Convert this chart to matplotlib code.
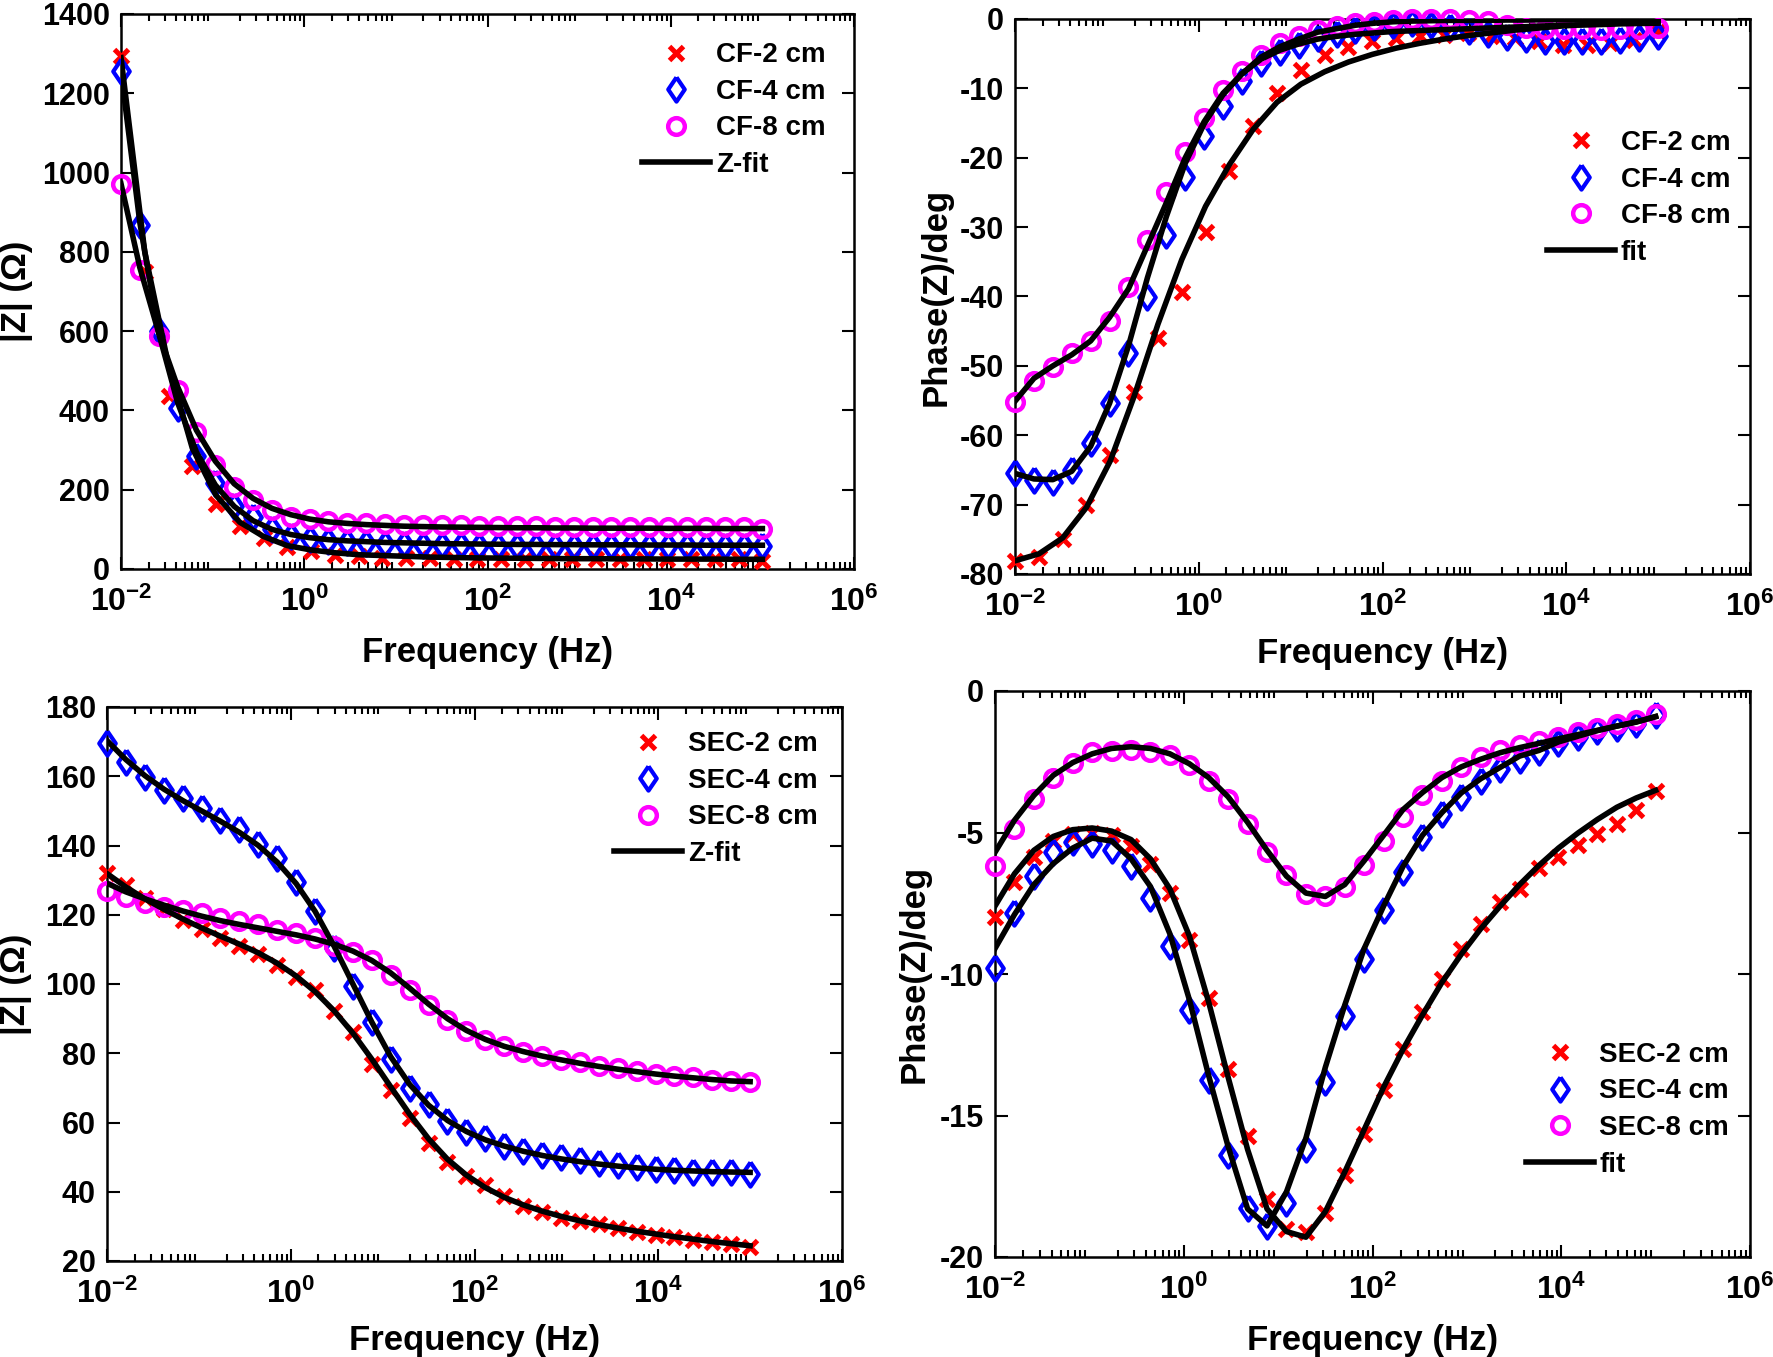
import numpy as np
import matplotlib
matplotlib.use("Agg")
import matplotlib.pyplot as plt
from matplotlib.ticker import LogLocator, NullFormatter

plt.rcParams['font.family'] = ['Liberation Sans', 'DejaVu Sans']
plt.rcParams['font.weight'] = 'bold'
plt.rcParams['mathtext.fontset'] = 'custom'
plt.rcParams['mathtext.rm'] = 'Liberation Sans:bold'
plt.rcParams['mathtext.bf'] = 'Liberation Sans:bold'

# measurement frequencies (Hz)
f35 = [0.01, 0.01607, 0.02581, 0.04145, 0.06659, 0.1070, 0.1719, 0.2762, 0.4437, 0.7127,
       1.145, 1.839, 2.955, 4.748, 7.626, 12.25, 19.69, 31.62, 50.80, 81.62,
       131.1, 210.6, 338.3, 543.6, 873.4, 1403, 2254, 3622, 5818, 9346,
       15015, 24120, 38740, 62230, 100000]
f28 = [0.01, 0.01817, 0.03300, 0.05995, 0.1089, 0.1978, 0.3594, 0.6529, 1.186, 2.154,
       3.914, 7.110, 12.92, 23.47, 42.62, 77.43, 140.7, 255.5, 464.2, 843.3,
       1532, 2783, 5055, 9184, 16680, 30310, 55060, 100000]

# ---- CF, |Z| ----
cf2_z = [1293, 750, 437, 259, 164, 109, 77, 55, 45, 36, 32, 29, 27, 27, 26, 26, 26, 25,
         25, 25, 25, 25, 24, 24, 24, 24, 24, 21]
cf2_zfit = [1290, 800, 514, 305, 186, 118, 82, 59, 48, 41, 36, 34, 32, 30, 29, 28, 27.5, 27,
            26.5, 26, 26, 25.5, 25.5, 25, 25, 25, 24.5, 24.5]
cf4_z = [1255, 868, 600, 405, 286, 218, 159, 132, 100, 82, 75, 71, 68, 66, 64, 62, 61, 60,
         60, 59, 59, 58, 58, 58, 57, 57, 57, 57, 57, 57, 57, 57, 57, 57, 57]
cf4_zfit = [1255, 873, 595, 420, 295, 212, 158, 122, 100, 87, 79, 74, 71, 69, 67, 66, 65, 64,
            63.5, 63, 62.5, 62, 62, 61.5, 61.5, 61, 61, 61, 60.5, 60.5, 60.5, 60, 60, 60, 60]
cf8_z = [972, 755, 588, 452, 345, 262, 207, 173, 150, 132, 127, 120, 117, 115, 113, 112, 111, 110,
         110, 109, 109, 108, 108, 107, 107, 107, 107, 106, 106, 106, 106, 105, 105, 105, 102]
cf8_zfit = [972, 760, 595, 460, 350, 272, 215, 178, 153, 137, 126, 119, 115, 112, 110, 108, 107, 106,
            105.5, 105, 104.5, 104, 104, 103.5, 103.5, 103, 103, 103, 103, 102.5, 102.5, 102.5, 102, 102, 102]

# ---- CF, phase ----
cf2_ph = [-78.1, -77.5, -74.9, -70.0, -62.8, -53.8, -46.0, -39.3, -30.7, -21.9, -15.4, -10.6, -7.3, -5.2,
          -4.0, -3.1, -2.7, -2.4, -2.3, -2.0, -2.4, -2.8, -3.2, -3.7, -3.7, -3.5, -3.0, -1.7]
cf2_phfit = [-78.1, -77.1, -74.8, -70.4, -63.7, -54.4, -44.0, -34.7, -27.0, -21.0, -15.9, -12.0, -9.4, -7.6,
             -6.2, -5.1, -4.2, -3.5, -2.9, -2.4, -2.0, -1.6, -1.3, -1.0, -0.8, -0.6, -0.5, -0.4]
cf4_ph = [-65.5, -66.5, -66.8, -65.0, -61.1, -55.4, -48.2, -40.1, -31.1, -22.8, -16.9, -12.5, -8.9, -6.3,
          -4.8, -3.7, -2.8, -2.2, -1.6, -1.1, -0.8, -0.6, -0.8, -1.2, -1.7, -2.1, -2.6, -2.9,
          -3.1, -3.2, -3.2, -3.1, -3.0, -2.8, -2.4]
cf4_phfit = [-65.5, -66.3, -66.4, -65.2, -61.6, -55.4, -47.1, -37.3, -28.5, -20.8, -15.1, -10.9, -7.9, -5.8,
             -4.5, -3.6, -2.9, -2.5, -2.2, -2.0, -1.8, -1.7, -1.6, -1.5, -1.4, -1.3, -1.2, -1.1,
             -1.0, -0.9, -0.85, -0.8, -0.7, -0.65, -0.6]
cf8_ph = [-55.2, -52.2, -50.1, -48.1, -46.4, -43.5, -38.7, -31.9, -24.9, -19.2, -14.3, -10.2, -7.5, -5.2,
          -3.5, -2.5, -1.6, -1.0, -0.6, -0.4, -0.1, 0.0, 0.0, 0.0, -0.1, -0.3, -0.8, -1.3,
          -1.5, -1.5, -1.5, -1.6, -1.5, -1.5, -1.3]
cf8_phfit = [-55.1, -51.8, -50.0, -48.4, -46.4, -43.0, -38.9, -32.7, -26.5, -20.0, -14.8, -10.7, -7.9, -5.5,
             -4.0, -2.9, -1.9, -1.4, -0.9, -0.6, -0.4, -0.3, -0.25, -0.2, -0.2, -0.2, -0.15, -0.15,
             -0.1, -0.1, -0.1, -0.1, -0.1, -0.1, -0.1]

# ---- SEC, |Z| ----
sec2_z = [132.0, 128.5, 124.8, 121.6, 118.5, 115.8, 113.3, 111.0, 108.8, 105.4, 101.9, 98.2, 92.3, 86.1,
          76.8, 69.3, 61.2, 54.1, 48.7, 44.6, 41.9, 38.7, 35.9, 34.1, 32.5, 31.6, 30.6, 29.4,
          28.5, 27.5, 26.9, 26.0, 25.4, 25.0, 24.1]
sec2_zfit = [131.9, 128.0, 124.6, 121.6, 118.8, 116.2, 113.8, 111.5, 109.0, 106.0, 102.3, 97.8, 92.3, 85.8,
             78.3, 70.3, 62.4, 55.3, 49.4, 44.8, 41.2, 38.4, 36.2, 34.4, 32.9, 31.6, 30.5, 29.5,
             28.6, 27.8, 27.0, 26.3, 25.6, 25.0, 24.4]
sec4_z = [169.7, 164.0, 159.7, 155.9, 153.8, 150.9, 147.5, 144.7, 140.3, 136.4, 129.5, 121.0, 110.4, 99.4,
          88.9, 78.3, 69.9, 65.2, 60.3, 57.4, 55.6, 53.3, 51.8, 50.6, 50.0, 49.1, 48.3, 47.8,
          47.2, 46.6, 46.2, 45.8, 45.6, 45.6, 45.2]
sec4_zfit = [170.3, 164.8, 160.2, 156.3, 153.0, 150.0, 147.0, 143.8, 140.0, 135.2, 129.0, 121.0, 111.0, 100.0,
             89.0, 79.0, 71.0, 65.0, 60.6, 57.4, 55.0, 53.2, 51.7, 50.5, 49.5, 48.7, 48.0, 47.4,
             46.9, 46.5, 46.2, 46.0, 45.8, 45.7, 45.6]
sec8_z = [127.0, 125.1, 123.5, 122.3, 121.3, 120.4, 119.1, 118.3, 117.3, 115.7, 114.8, 113.2, 111.0, 109.2,
          106.9, 102.6, 98.2, 94.0, 89.5, 86.5, 83.9, 82.0, 80.5, 79.3, 78.0, 77.4, 76.4, 75.8,
          74.9, 74.0, 73.4, 73.0, 72.4, 72.0, 71.8]
sec8_zfit = [129.1, 126.6, 124.6, 122.8, 121.1, 119.6, 118.3, 117.2, 116.2, 115.2, 114.2, 113.0, 111.5, 109.5,
             106.8, 103.2, 98.8, 94.2, 90.0, 86.6, 84.0, 82.0, 80.5, 79.2, 78.1, 77.1, 76.2, 75.4,
             74.7, 74.0, 73.4, 72.9, 72.4, 72.0, 71.8]

# ---- SEC, phase ----
sec2_ph = [-7.97, -6.76, -5.85, -5.30, -5.05, -5.02, -5.10, -5.48, -6.11, -7.14, -8.80, -10.85, -13.34, -15.73,
           -17.96, -19.02, -19.12, -18.46, -17.12, -15.64, -14.10, -12.66, -11.35, -10.17, -9.11, -8.23, -7.47, -6.99,
           -6.26, -5.85, -5.45, -5.05, -4.69, -4.19, -3.54]
sec2_phfit = [-7.6, -6.46, -5.63, -5.14, -4.90, -4.84, -4.95, -5.25, -5.93, -6.99, -8.65, -11.0, -13.65, -16.2,
              -18.3, -19.1, -19.3, -18.4, -17.0, -15.5, -14.0, -12.66, -11.45, -10.3, -9.3, -8.4, -7.6, -6.84,
              -6.16, -5.55, -5.02, -4.54, -4.11, -3.78, -3.51]
sec4_ph = [-9.79, -7.85, -6.54, -5.70, -5.35, -5.40, -5.63, -6.18, -7.30, -9.00, -11.27, -13.76, -16.38, -18.26,
           -18.90, -18.10, -16.20, -13.82, -11.50, -9.47, -7.73, -6.38, -5.17, -4.34, -3.74, -3.18, -2.75, -2.45,
           -2.15, -1.85, -1.62, -1.42, -1.32, -1.16, -0.86]
sec4_phfit = [-9.1, -7.9, -6.84, -6.1, -5.55, -5.2, -5.3, -5.93, -6.91, -8.58, -10.9, -13.6, -16.1, -18.3,
              -18.9, -17.7, -15.8, -13.3, -11.1, -9.1, -7.6, -6.2, -5.1, -4.3, -3.6, -3.1, -2.7, -2.3,
              -2.1, -1.8, -1.6, -1.4, -1.24, -1.1, -0.9]
sec8_ph = [-6.20, -4.87, -3.81, -3.09, -2.53, -2.15, -2.12, -2.10, -2.15, -2.27, -2.60, -3.18, -3.81, -4.69,
           -5.70, -6.50, -7.17, -7.26, -6.91, -6.16, -5.30, -4.46, -3.69, -3.18, -2.68, -2.33, -2.07, -1.92,
           -1.77, -1.62, -1.44, -1.32, -1.16, -1.01, -0.82]
sec8_phfit = [-5.70, -4.57, -3.69, -2.98, -2.53, -2.22, -2.03, -1.97, -2.03, -2.22, -2.57, -3.06, -3.74, -4.64,
              -5.63, -6.54, -7.14, -7.26, -6.84, -6.00, -5.10, -4.19, -3.59, -3.06, -2.68, -2.41, -2.18, -2.00,
              -1.85, -1.69, -1.54, -1.39, -1.24, -1.09, -0.91]

W, H = 1773, 1357
fig = plt.figure(figsize=(W / 100, H / 100), dpi=100)

# a diamond a bit wider than matplotlib's 'd'
diamond = [(0, 1), (0.68, 0), (0, -1), (-0.68, 0), (0, 1)]


def px_axes(l, t, r, b):
    return fig.add_axes([l / W, 1 - b / H, (r - l) / W, (b - t) / H])


def draw(ax, xa, ya, yafit, xb, yb, ybfit, xc, yc, ycfit, names, fitname):
    h1, = ax.plot(xa, ya, 'x', color='red', ms=10, mew=3.6, clip_on=False, zorder=3)
    h2, = ax.plot(xb, yb, marker=diamond, ls='none', color='blue', ms=17.5, mew=3, mfc='none',
                  clip_on=False, zorder=3)
    h3, = ax.plot(xc, yc, 'o', color='magenta', ms=12, mew=3.2, mfc='none', clip_on=False, zorder=3)
    hf, = ax.plot(xa, yafit, '-', color='black', lw=4, zorder=4)
    ax.plot(xb, ybfit, '-', color='black', lw=4, zorder=4)
    ax.plot(xc, ycfit, '-', color='black', lw=4, zorder=4)
    return [h1, h2, h3, hf], names + [fitname]


def style(ax, ylim, yticks, xlab_y, ylab_x, ylabel):
    ax.set_xscale('log')
    ax.set_xlim(1e-2, 1e6)
    ax.set_ylim(*ylim)
    ax.set_xticks([1e-2, 1e0, 1e2, 1e4, 1e6])
    ax.set_xticklabels([r'$\mathbf{10^{-2}}$', r'$\mathbf{10^{0}}$', r'$\mathbf{10^{2}}$',
                        r'$\mathbf{10^{4}}$', r'$\mathbf{10^{6}}$'])
    ax.xaxis.set_minor_locator(LogLocator(base=10, subs=range(2, 10), numticks=20))
    ax.xaxis.set_minor_formatter(NullFormatter())
    ax.set_yticks(yticks)
    ax.set_yticklabels([str(v) for v in yticks])
    ax.tick_params(which='both', direction='in', top=True, right=True, width=1.5)
    ax.tick_params(which='major', length=9)
    ax.tick_params(which='minor', length=5)
    ax.tick_params(axis='x', pad=13, labelsize=23)
    ax.tick_params(axis='y', pad=8, labelsize=22)
    for s in ax.spines.values():
        s.set_linewidth(1.8)
    ax.set_xlabel('Frequency (Hz)', fontsize=25, fontweight='bold')
    ax.xaxis.set_label_coords(0.5, xlab_y)
    ax.xaxis.label.set_va('center')
    ax.set_ylabel(ylabel, fontsize=25, fontweight='bold')
    ax.yaxis.set_label_coords(ylab_x, 0.5)
    ax.yaxis.label.set_va('center')


def leg(ax, handles, labels, x, y):
    ax.legend(handles, labels, loc='upper left', bbox_to_anchor=(x, y), frameon=False,
              fontsize=20, handlelength=2.45, handletextpad=0.2, labelspacing=0.38,
              borderaxespad=0, borderpad=0)


# top left
ax1 = px_axes(121, 14, 854, 569)
hs, ls = draw(ax1, f28, cf2_z, cf2_zfit, f35, cf4_z, cf4_zfit, f35, cf8_z, cf8_zfit,
              ['CF-2 cm', 'CF-4 cm', 'CF-8 cm'], 'Z-fit')
style(ax1, (0, 1400), list(range(0, 1401, 200)), -0.150, -0.143, '|Z| (Ω)')
leg(ax1, hs, ls, 0.711, 0.949)

# top right
ax2 = px_axes(1015, 19, 1750, 574)
hs, ls = draw(ax2, f28, cf2_ph, cf2_phfit, f35, cf4_ph, cf4_phfit, f35, cf8_ph, cf8_phfit,
              ['CF-2 cm', 'CF-4 cm', 'CF-8 cm'], 'fit')
style(ax2, (-80, 0), list(range(-80, 1, 10)), -0.143, -0.107, 'Phase(Z)/deg')
leg(ax2, hs, ls, 0.724, 0.800)

# bottom left
ax3 = px_axes(107, 707, 842, 1261)
hs, ls = draw(ax3, f35, sec2_z, sec2_zfit, f35, sec4_z, sec4_zfit, f35, sec8_z, sec8_zfit,
              ['SEC-2 cm', 'SEC-4 cm', 'SEC-8 cm'], 'Z-fit')
style(ax3, (20, 180), list(range(20, 181, 20)), -0.143, -0.124, '|Z| (Ω)')
leg(ax3, hs, ls, 0.690, 0.956)

# bottom right
ax4 = px_axes(995, 691, 1750, 1257)
hs, ls = draw(ax4, f35, sec2_ph, sec2_phfit, f35, sec4_ph, sec4_phfit, f35, sec8_ph, sec8_phfit,
              ['SEC-2 cm', 'SEC-4 cm', 'SEC-8 cm'], 'fit')
style(ax4, (-20, 0), list(range(-20, 1, 5)), -0.147, -0.107, 'Phase(Z)/deg')
leg(ax4, hs, ls, 0.703, 0.380)

fig.savefig('out.png', dpi=100)
